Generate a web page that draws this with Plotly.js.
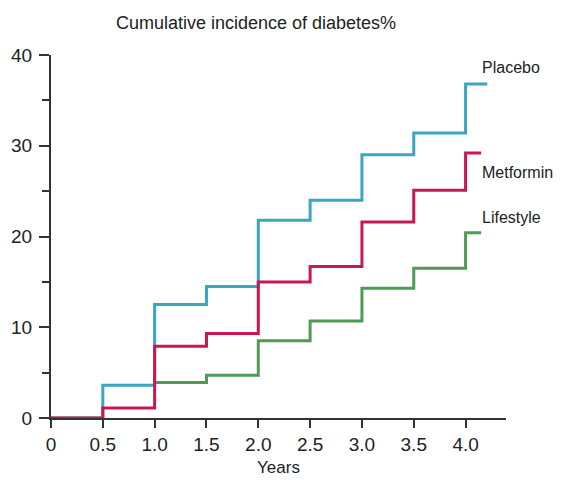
<!DOCTYPE html>
<html>
<head>
<meta charset="utf-8">
<script src="https://cdn.plot.ly/plotly-3.0.1.min.js"></script>
<style>html,body{margin:0;padding:0;background:#fff;}#chart{width:563px;height:485px;}</style>
</head>
<body>
<div id="chart"></div>
<script>
// Data (cumulative incidence of diabetes, %)
const years = [0, 0.5, 1.0, 1.5, 2.0, 2.5, 3.0, 3.5, 4.0, 4.15];
const placebo = [0, 3.6, 12.5, 14.5, 21.8, 24.0, 29.0, 31.4, 36.8, 36.8];
const metformin = [0, 1.1, 7.9, 9.3, 15.0, 16.7, 21.6, 25.1, 29.2, 29.2];
const lifestyle = [null, null, 3.9, 4.7, 8.5, 10.7, 14.3, 16.5, 20.4, 20.4];
const seriesNames = ["Placebo", "Metformin", "Lifestyle"];
const xTickVals = [0, 0.5, 1, 1.5, 2, 2.5, 3, 3.5, 4];
const xTickText = ["0", "0.5", "1.0", "1.5", "2.0", "2.5", "3.0", "3.5", "4.0"];
const yTickVals = [0, 10, 20, 30, 40];

const colors = {Placebo: "#3aa6c2", Metformin: "#c9174f", Lifestyle: "#4f9a55"};
const font = "Liberation Sans, Arial, sans-serif";

function trace(name, y, endX) {
  return {
    x: years.slice(0, years.length - 1).concat([endX]), y: y, name: name,
    type: "scatter", mode: "lines",
    line: {shape: "hv", color: colors[name], width: 3},
    hoverinfo: "skip", cliponaxis: false, connectgaps: false
  };
}

const data = [
  trace("Lifestyle", lifestyle, 4.15),
  trace("Placebo", placebo, 4.21),
  trace("Metformin", metformin, 4.15)
];

const labelPos = {Placebo: 38.6, Metformin: 27.1, Lifestyle: 22.1};
const annotations = seriesNames.map(n => ({
  x: 4.14, y: labelPos[n], xref: "x", yref: "y", text: n, showarrow: false,
  xanchor: "left", yanchor: "middle", font: {family: font, size: 16, color: "#222"}
}));

const layout = {
  width: 563, height: 485,
  margin: {l: 51, r: 57, t: 55, b: 67},
  paper_bgcolor: "#fff", plot_bgcolor: "#fff",
  showlegend: false,
  font: {family: font, color: "#222"},
  title: {text: "Cumulative incidence of diabetes%", x: 256/563, xanchor: "center", y: 1 - 23/485, yanchor: "middle",
          font: {family: font, size: 18, color: "#222"}},
  xaxis: {
    range: [0, 4.39], showgrid: false, zeroline: false, layer: "below traces",
    showline: true, linecolor: "#333", linewidth: 2,
    ticks: "outside", ticklen: 8, tickwidth: 2, tickcolor: "#333",
    tickvals: xTickVals, ticktext: xTickText,
    tickfont: {family: font, size: 19, color: "#222"},
    title: {text: "Years", font: {family: font, size: 17, color: "#222"}, standoff: 7}
  },
  yaxis: {
    range: [0, 40], showgrid: false, zeroline: false, layer: "below traces",
    showline: true, linecolor: "#333", linewidth: 2,
    ticks: "outside", ticklen: 10, tickwidth: 2, tickcolor: "#333",
    tickvals: yTickVals, ticklabelstandoff: 3,
    tickfont: {family: font, size: 19, color: "#222"},
    minor: {dtick: 5, tick0: 5, ticks: "outside", ticklen: 7, tickwidth: 2, tickcolor: "#333", showgrid: false}
  },
  annotations: annotations
};

Plotly.newPlot("chart", data, layout, {displayModeBar: false, staticPlot: true});
</script>
</body>
</html>
